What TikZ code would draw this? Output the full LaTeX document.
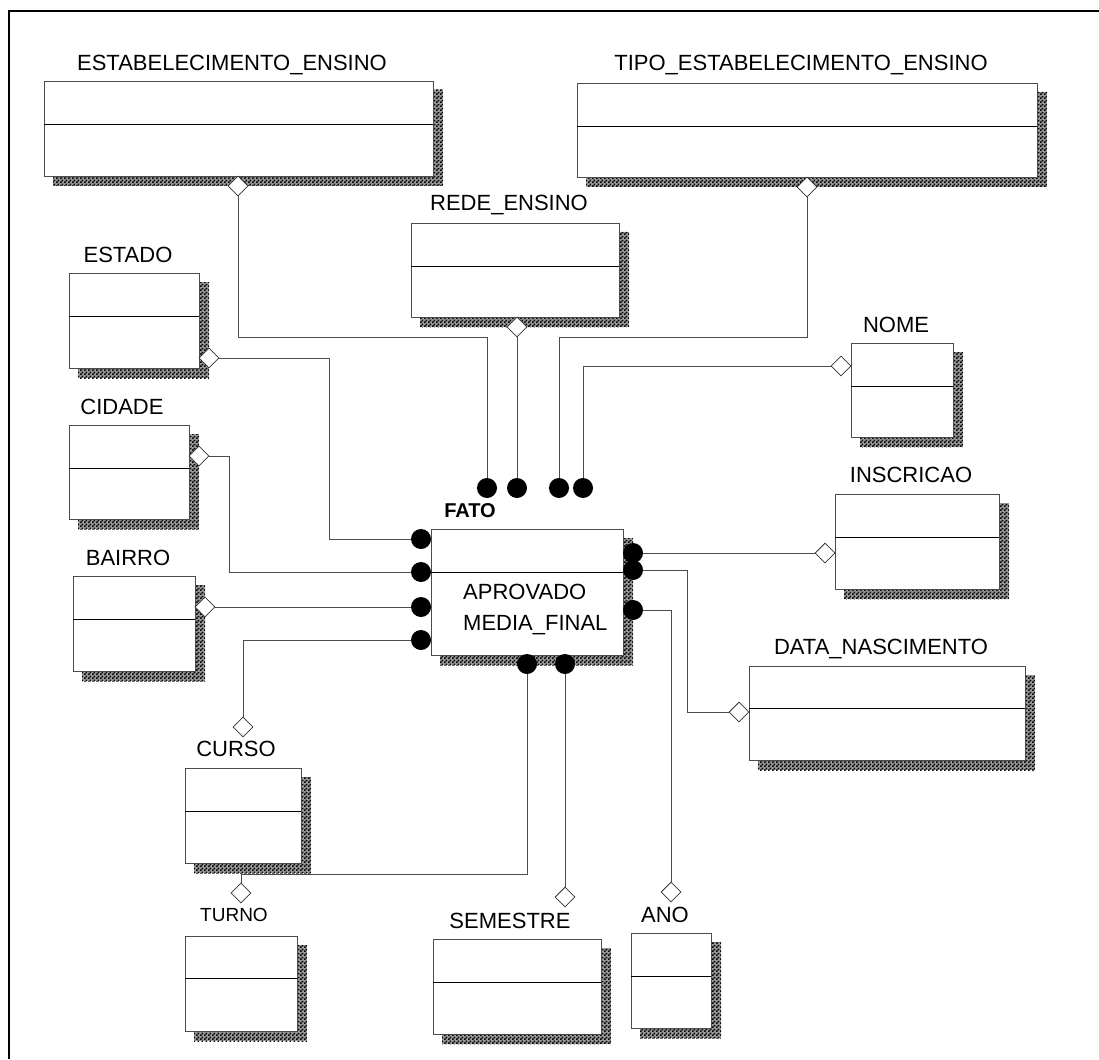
\documentclass[tikz,border=0pt]{standalone}
\usepackage{fontspec}
\setmainfont{Liberation Sans}
\usetikzlibrary{shapes.geometric,patterns}

% fine black/white checker used for the drop shadows
\pgfdeclarepatternformonly{checker}{\pgfpointorigin}{\pgfpoint{4pt}{4pt}}{\pgfpoint{4pt}{4pt}}{%
  \pgfpathrectangle{\pgfpointorigin}{\pgfpoint{2pt}{2pt}}%
  \pgfpathrectangle{\pgfpoint{2pt}{2pt}}{\pgfpoint{2pt}{2pt}}%
  \pgfusepath{fill}}

\tikzset{
  entbox/.style={rectangle, draw=black!70, line width=0.9pt, fill=white, inner sep=0pt},
  divline/.style={black, line width=0.9pt},
  shadowbase/.style={fill=black!40},
  shadowfill/.style={pattern=checker, pattern color=black},
  enttitle/.style={inner sep=0pt, anchor=base, font=\fontsize{22}{25}\selectfont},
  smalltitle/.style={enttitle, font=\fontsize{19}{22}\selectfont},
  facttitle/.style={enttitle, font=\bfseries\fontsize{20}{23}\selectfont},
  attrtext/.style={inner sep=0pt, anchor=base west, font=\fontsize{22}{25}\selectfont},
  conn/.style={draw=black!70, line width=0.9pt},
  keymark/.style={diamond, draw=black!80, fill=white, line width=0.8pt,
                  minimum width=20pt, minimum height=20pt, inner sep=0pt},
  fkdot/.style={circle, fill=black, minimum size=20pt, inner sep=0pt},
}

% entity box: name, left, top, right, bottom, divider y
\newcommand\erbox[6]{%
  \fill[shadowbase] (#4,#3+9) rectangle (#4+10,#5+10);
  \fill[shadowbase] (#2+9,#5) rectangle (#4,#5+10);
  \fill[shadowfill] (#4,#3+9) rectangle (#4+10,#5+10);
  \fill[shadowfill] (#2+9,#5) rectangle (#4,#5+10);
  \node[entbox, anchor=north west, minimum width={#4-#2}, minimum height={#5-#3}] (#1) at (#2,#3) {};
  \draw[divline] (#2,#6) -- (#4,#6);
}

\begin{document}
\begin{tikzpicture}[x=1pt, y=-1pt]
\useasboundingbox (0,0) rectangle (1099,1059);

% page frame
\draw[line width=1.3pt] (9,1059) -- (9,11) -- (1099,11);

% entity boxes
\erbox{estab}{44}{81}{433}{176}{124}
\erbox{tipo}{577}{83}{1037}{177}{126}
\erbox{rede}{411}{223}{619}{317}{266}
\erbox{estado}{69}{273}{199}{368}{316}
\erbox{nome}{851}{343}{953}{437}{386}
\erbox{cidade}{69}{425}{189}{519}{468}
\erbox{inscr}{835}{494}{999}{589}{537}
\erbox{bairro}{73}{576}{195}{671}{619}
\erbox{fato}{431}{529}{623}{655}{572}
\erbox{data}{749}{666}{1025}{760}{708}
\erbox{curso}{185}{768}{301}{863}{811}
\erbox{turno}{185}{936}{297}{1031}{978}
\erbox{sem}{433}{939}{601}{1034}{982}
\erbox{ano}{631}{933}{711}{1028}{976}

% entity names
\node[enttitle] (lEstab) at (232,70.5) {ESTABELECIMENTO\_ENSINO};
\node[enttitle] (lTipo) at (801,70.5) {TIPO\_ESTABELECIMENTO\_ENSINO};
\node[enttitle] (lRede) at (509,210.5) {REDE\_ENSINO};
\node[enttitle] (lEstado) at (128,262.5) {ESTADO};
\node[enttitle] (lNome) at (896,332.5) {NOME};
\node[enttitle] (lCidade) at (122,414.5) {CIDADE};
\node[enttitle] (lInscr) at (911,482.5) {INSCRICAO};
\node[facttitle] (lFato) at (470,517) {FATO};
\node[enttitle] (lBairro) at (128,565.5) {BAIRRO};
\node[enttitle] (lData) at (881,654.5) {DATA\_NASCIMENTO};
\node[enttitle] (lCurso) at (236,756.5) {CURSO};
\node[smalltitle] (lTurno) at (234,921.5) {TURNO};
\node[enttitle] (lSem) at (510,928.5) {SEMESTRE};
\node[enttitle] (lAno) at (665,922.5) {ANO};

% fact attributes
\node[attrtext] (aAprov) at (463,599.5) {APROVADO};
\node[attrtext] (aMedia) at (463,630.5) {MEDIA\_FINAL};

% key markers on the dimensions
\node[keymark] (dmEstab) at (238,186) {};
\node[keymark] (dmTipo) at (807,187) {};
\node[keymark] (dmRede) at (517,327) {};
\node[keymark] (dmNome) at (841,366) {};
\node[keymark] (dmEstado) at (209,358) {};
\node[keymark] (dmCidade) at (199,456) {};
\node[keymark] (dmBairro) at (205,607) {};
\node[keymark] (dmInscr) at (825,553) {};
\node[keymark] (dmData) at (739,712) {};
\node[keymark] (dmCurso) at (243,727) {};
\node[keymark] (dmTurno) at (241,893) {};
\node[keymark] (dmSem) at (565,897) {};
\node[keymark] (dmAno) at (671,892) {};

% foreign key dots on the fact table
\node[fkdot] (dotT1) at (487,488) {};
\node[fkdot] (dotT2) at (517,488) {};
\node[fkdot] (dotT3) at (559,488) {};
\node[fkdot] (dotT4) at (583,488) {};
\node[fkdot] (dotL1) at (421,539) {};
\node[fkdot] (dotL2) at (421,572) {};
\node[fkdot] (dotL3) at (421,607) {};
\node[fkdot] (dotL4) at (421,640) {};
\node[fkdot] (dotR1) at (633,553) {};
\node[fkdot] (dotR2) at (633,570) {};
\node[fkdot] (dotR3) at (633,610) {};
\node[fkdot] (dotB1) at (527,664) {};
\node[fkdot] (dotB2) at (565,664) {};

% bend points
\coordinate (kEstab) at (238,337);
\coordinate (kTipo) at (807,337);
\coordinate (kEstado) at (329,539);
\coordinate (kCidade) at (229,572);
\coordinate (kData) at (687,570);
\coordinate (kTurno) at (527,874);

% connectors
\draw[conn] (dmEstab) -- (kEstab) -| (dotT1);
\draw[conn] (dmRede) -- (dotT2);
\draw[conn] (dmTipo) -- (kTipo) -| (dotT3);
\draw[conn] (dmNome) -| (dotT4);
\draw[conn] (dmEstado) -| (kEstado) -- (dotL1);
\draw[conn] (dmCidade) -| (kCidade) -- (dotL2);
\draw[conn] (dmBairro) -- (dotL3);
\draw[conn] (dmCurso) |- (dotL4);
\draw[conn] (dotR1) -- (dmInscr);
\draw[conn] (dotR2) -- (kData) |- (dmData);
\draw[conn] (dotR3) -| (dmAno);
\draw[conn] (dotB1) -- (kTurno) -| (dmTurno);
\draw[conn] (dotB2) -- (dmSem);
\end{tikzpicture}
\end{document}
